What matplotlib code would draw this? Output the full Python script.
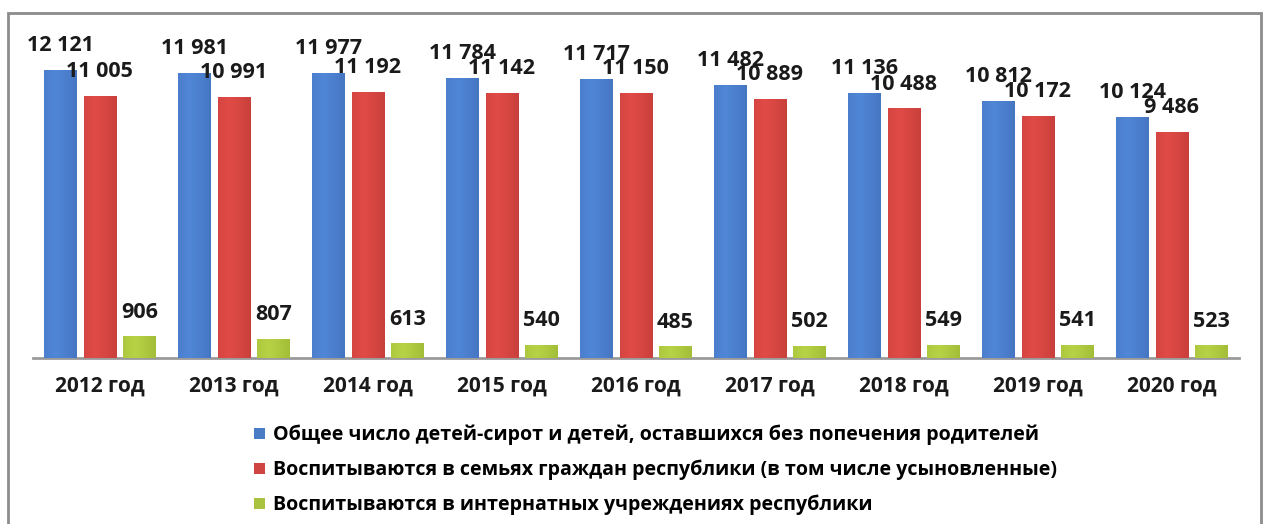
import matplotlib
matplotlib.use('Agg')
import matplotlib.pyplot as plt
import numpy as np
from matplotlib.patches import Patch, Rectangle

plt.rcParams['font.family'] = ['Open Sans', 'DejaVu Sans']

# Данные
years = ['2012 год', '2013 год', '2014 год', '2015 год', '2016 год',
         '2017 год', '2018 год', '2019 год', '2020 год']
total = [12121, 11981, 11977, 11784, 11717, 11482, 11136, 10812, 10124]
families = [11005, 10991, 11192, 11142, 11150, 10889, 10488, 10172, 9486]
boarding = [906, 807, 613, 540, 485, 502, 549, 541, 523]

series_names = [
    'Общее число детей-сирот и детей, оставшихся без попечения родителей',
    'Воспитываются в семьях граждан республики (в том числе усыновленные)',
    'Воспитываются в интернатных учреждениях республики',
]
colors = ['#4A7CC6', '#CF4541', '#A9C23F']
dark = ['#2C4F8F', '#8E2622', '#6F8A1E']


def fmt(v):
    return f'{v:,}'.replace(',', ' ')


def gradient_bar(ax, patch, c_light, c_dark):
    # имитация объёмной заливки как в Excel
    x0, y0 = patch.get_x(), patch.get_y()
    w, h = patch.get_width(), patch.get_height()
    t = np.linspace(0, 1, 64)
    shade = 1 - 0.55 * np.abs(t - 0.35) ** 1.2
    base = np.array(matplotlib.colors.to_rgb(c_light))
    dk = np.array(matplotlib.colors.to_rgb(c_dark))
    row = dk[None, :] + (base - dk)[None, :] * shade[:, None]
    img = np.clip(row[None, :, :] * 1.08, 0, 1)
    im = ax.imshow(img, extent=(x0, x0 + w, y0, y0 + h), aspect='auto',
                   zorder=3, interpolation='bilinear')
    im.set_clip_path(patch)


fig = plt.figure(figsize=(12.64, 5.24), dpi=100)
ax = fig.add_axes([0.026, 0.317, 0.954, 0.59])

x = np.arange(len(years))
width = 0.24
offsets = [-0.295, 0.0, 0.295]

for vals, off, c, d in zip([total, families, boarding], offsets, colors, dark):
    bars = ax.bar(x + off, vals, width, color=c, zorder=2, linewidth=0)
    for b, v in zip(bars, vals):
        gradient_bar(ax, b, c, d)
        ax.annotate(fmt(v), (b.get_x() + b.get_width() / 2, b.get_height()),
                    xytext=(0, 17.5), textcoords='offset points',
                    ha='center', va='center', fontsize=15.5, fontweight='bold',
                    color='#1a1a1a', zorder=5)

ax.set_xlim(-0.5, len(years) - 0.5)
ax.set_ylim(0, 13000)
ax.set_xticks(x)
ax.set_xticklabels(years, fontsize=15, fontweight='bold', color='#1a1a1a')
ax.tick_params(axis='x', length=0, pad=13)
ax.set_yticks([])
for s in ['top', 'right', 'left']:
    ax.spines[s].set_visible(False)
ax.spines['bottom'].set_color('#9a9a9a')
ax.spines['bottom'].set_linewidth(2)

handles = [Patch(facecolor=c, edgecolor='none') for c in colors]
fig.legend(handles, series_names, loc='upper left',
           bbox_to_anchor=(0.201, 0.189), frameon=False,
           prop={'size': 14.1, 'weight': 'bold'},
           handlelength=0.55, handleheight=0.55, handletextpad=0.4,
           labelspacing=0.74, borderaxespad=0, borderpad=0)

# рамка диаграммы
fig.patches.append(Rectangle((0.006, -0.1), 0.992, 1.075,
                             transform=fig.transFigure, fill=False,
                             edgecolor='#8c8c8c', linewidth=2))

fig.savefig('out.png', dpi=100, facecolor='white')
